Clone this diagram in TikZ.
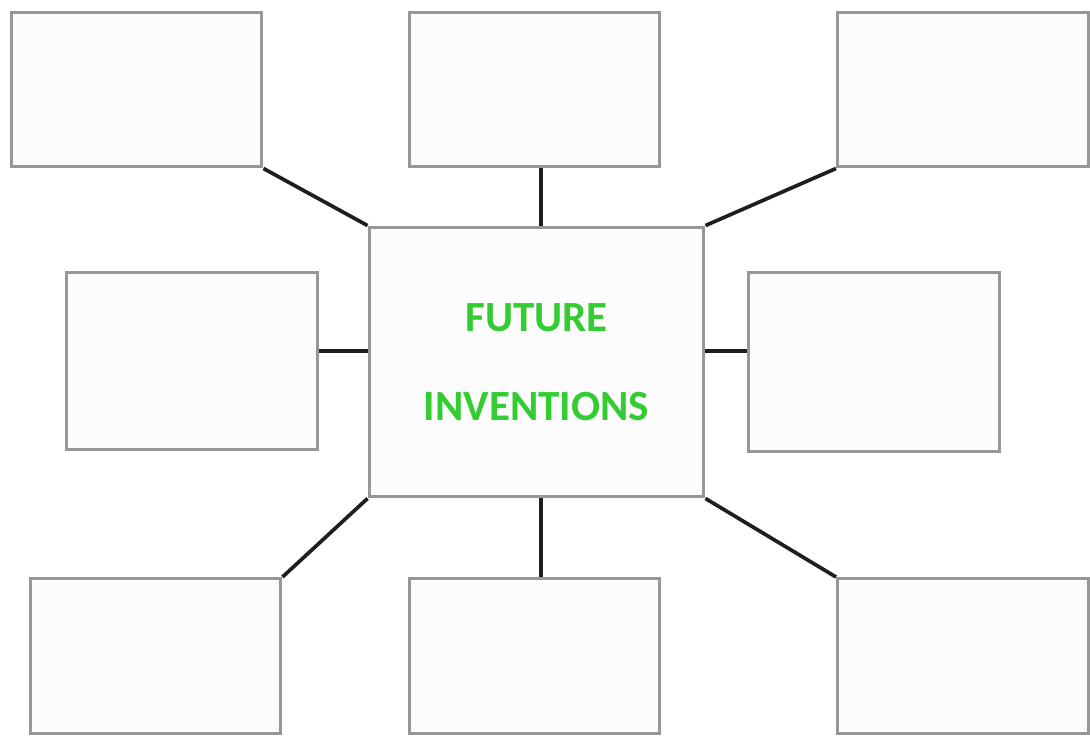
\documentclass[tikz,border=0pt]{standalone}
\usepackage{fontspec}
\setmainfont{Carlito}
\usetikzlibrary{positioning}
\definecolor{boxline}{HTML}{979797}
\definecolor{boxfill}{HTML}{FCFCFC}
\definecolor{linkline}{HTML}{1E1E1E}
\definecolor{idea}{HTML}{33CC33}
\begin{document}
\begin{tikzpicture}[
          x=0.02cm, y=-0.02cm,
          box/.style={draw=boxline, fill=boxfill, line width=1.7pt, minimum width=5.02cm, minimum height=3.1cm, inner sep=0pt},
          hub/.style={box, minimum width=6.7cm, minimum height=5.4cm, align=center, text=idea, font=\fontsize{24.5}{29}\selectfont\bfseries},
          link/.style={draw=linkline, line width=2.1pt}
        ]
        \useasboundingbox (0,0) rectangle (1090,738);
        \node[hub] (fut) at (536.5,362) {FUTURE\\[22pt]INVENTIONS};
        \node[box] (tl) at (136.5,89.5) {};
        \node[box] (tc) at (534.5,89.5) {};
        \node[box] (tr) at (963,89.5) {};
        \node[box, minimum height=3.56cm] (ml) at (192,361) {};
        \node[box, minimum height=3.6cm] (mr) at (874,362) {};
        \node[box] (bl) at (155.5,656) {};
        \node[box] (bc) at (534.5,656) {};
        \node[box] (br) at (963,656) {};
        \draw[link] (tl.south east) -- (fut.north west);
        \draw[link] ([xshift=0.09cm]fut.north) -- ([xshift=0.09cm]fut.north |- tc.south);
        \draw[link] (tr.south west) -- (fut.north east);
        \draw[link] ([yshift=0.2cm]ml.east) -- ([yshift=0.2cm]ml.east -| fut.west);
        \draw[link] ([yshift=0.22cm]fut.east) -- ([yshift=0.22cm]fut.east -| mr.west);
        \draw[link] (bl.north east) -- (fut.south west);
        \draw[link] ([xshift=0.09cm]fut.south) -- ([xshift=0.09cm]fut.south |- bc.north);
        \draw[link] (fut.south east) -- (br.north west);
      \end{tikzpicture}
\end{document}
